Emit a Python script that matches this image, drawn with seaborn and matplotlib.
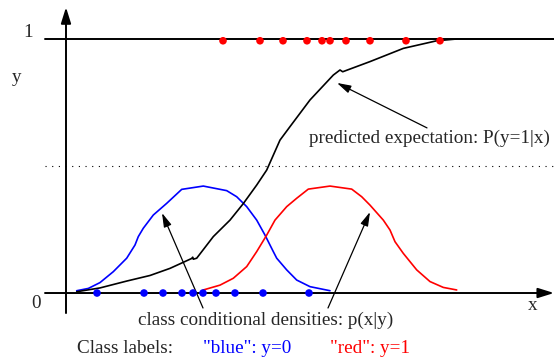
import matplotlib
matplotlib.use("Agg")
import matplotlib.pyplot as plt
import seaborn as sns
import pandas as pd

sns.set_theme(style="white")
plt.rcParams['font.family'] = ['Liberation Serif', 'DejaVu Serif']

# ---- data ----
blue_x = [3.1, 7.8, 9.7, 11.6, 12.7, 13.7, 15.0, 16.9, 19.7, 24.3]
red_x = [15.7, 19.4, 21.7, 24.1, 25.6, 26.4, 28.0, 30.4, 34.0, 37.4]
blue_label = 0.0
red_label = 0.993

blue_dens_x = [1.07, 2.23, 3.4, 4.73, 6.07, 6.9, 7.23, 7.73, 8.73, 10.07, 11.57, 13.73, 16.07, 17.07,
               18.07, 19.07, 19.9, 20.73, 21.07, 22.07, 23.07, 24.4, 26.4]
blue_dens_y = [0.009, 0.018, 0.041, 0.084, 0.137, 0.189, 0.222, 0.255, 0.307, 0.353, 0.408, 0.421, 0.403, 0.379,
               0.340, 0.287, 0.228, 0.163, 0.137, 0.091, 0.051, 0.025, 0.009]
red_dens_x = [13.73, 15.4, 16.73, 18.07, 19.07, 20.07, 20.9, 22.07, 23.07, 24.23, 26.4, 28.57, 29.57, 30.4,
              31.73, 32.4, 32.9, 33.73, 35.07, 36.4, 37.73, 39.07]
red_dens_y = [0.012, 0.031, 0.058, 0.104, 0.163, 0.228, 0.287, 0.340, 0.373, 0.409, 0.421, 0.409, 0.379, 0.346,
              0.287, 0.248, 0.202, 0.156, 0.091, 0.045, 0.022, 0.012]
post_x = [1.07, 3.4, 6.07, 8.4, 10.4, 12.57, 12.67, 12.73, 13.07, 14.73, 16.4, 17.73, 19.07, 20.07, 21.4,
          22.4, 24.4, 26.73, 27.4, 27.67, 30.4, 33.73, 37.07, 39.07, 48.8]
post_y = [0.005, 0.020, 0.047, 0.069, 0.097, 0.136, 0.141, 0.133, 0.137, 0.222, 0.287, 0.352, 0.425, 0.484, 0.602,
          0.655, 0.760, 0.858, 0.878, 0.871, 0.911, 0.963, 0.993, 1.0, 1.0]

dens = pd.concat([
    pd.DataFrame({"x": blue_dens_x, "y": blue_dens_y, "cls": "blue"}),
    pd.DataFrame({"x": red_dens_x, "y": red_dens_y, "cls": "red"}),
])
pts = pd.concat([
    pd.DataFrame({"x": blue_x, "y": blue_label, "cls": "blue"}),
    pd.DataFrame({"x": red_x, "y": red_label, "cls": "red"}),
])
pal = {"blue": "#0000ff", "red": "#ff0000"}

fig = plt.figure(figsize=(5.54, 3.59), dpi=100)
ax = fig.add_axes([0, 0, 1, 1])
ax.set_xlim(-6.6, 48.8)
ax.set_ylim(-0.2598, 1.1535)
ax.axis("off")

# axes lines
ax.plot([-2.1, 48.8], [1.0, 1.0], color="black", lw=1.4)
ax.plot([-2.1, 48.8], [0.5, 0.5], color="black", lw=0.8, linestyle=(0, (1, 5)))
ax.annotate("", xy=(0, 1.125), xytext=(0, -0.079),
            arrowprops=dict(arrowstyle="-|>,head_length=0.8,head_width=0.25", color="black", lw=1.4, shrinkA=0, shrinkB=0))
ax.annotate("", xy=(48.8, 0), xytext=(-2.1, 0),
            arrowprops=dict(arrowstyle="-|>,head_length=0.8,head_width=0.25", color="black", lw=1.4, shrinkA=0, shrinkB=0))

sns.lineplot(data=dens, x="x", y="y", hue="cls", palette=pal, sort=False, estimator=None,
             lw=1.2, legend=False, ax=ax)
sns.lineplot(x=post_x, y=post_y, color="black", sort=False, estimator=None, lw=1.2, ax=ax)
sns.scatterplot(data=pts, x="x", y="y", hue="cls", palette=pal, s=30, linewidth=0,
                legend=False, ax=ax, zorder=5)

fs = 13.8
ax.text(-3.8, 1.024, "1", fontsize=fs, ha="center", va="center")
ax.text(-4.9, 0.85, "y", fontsize=fs, ha="center", va="center")
ax.text(-3.0, -0.043, "0", fontsize=fs, ha="center", va="center")
ax.text(46.7, -0.051, "x", fontsize=fs, ha="center", va="center")

ax.text(24.3, 0.610, "predicted expectation: P(y=1|x)", fontsize=fs, ha="left", va="center")
ax.text(7.2, -0.106, "class conditional densities: p(x|y)", fontsize=fs, ha="left", va="center")
ax.text(1.1, -0.217, "Class labels:", fontsize=fs, ha="left", va="center")
ax.text(13.7, -0.217, '"blue": y=0', fontsize=fs, ha="left", va="center", color="#0000ff")
ax.text(26.4, -0.217, '"red": y=1', fontsize=fs, ha="left", va="center", color="#ff0000")

arr = dict(arrowstyle="-|>,head_length=0.7,head_width=0.2", color="black", lw=0.9, shrinkA=0, shrinkB=0)
ax.annotate("", xy=(27.1, 0.827), xytext=(36.1, 0.650), arrowprops=arr)
ax.annotate("", xy=(9.6, 0.315), xytext=(13.7, -0.059), arrowprops=arr)
ax.annotate("", xy=(30.4, 0.319), xytext=(26.2, -0.059), arrowprops=arr)

fig.savefig("out.png", dpi=100)
